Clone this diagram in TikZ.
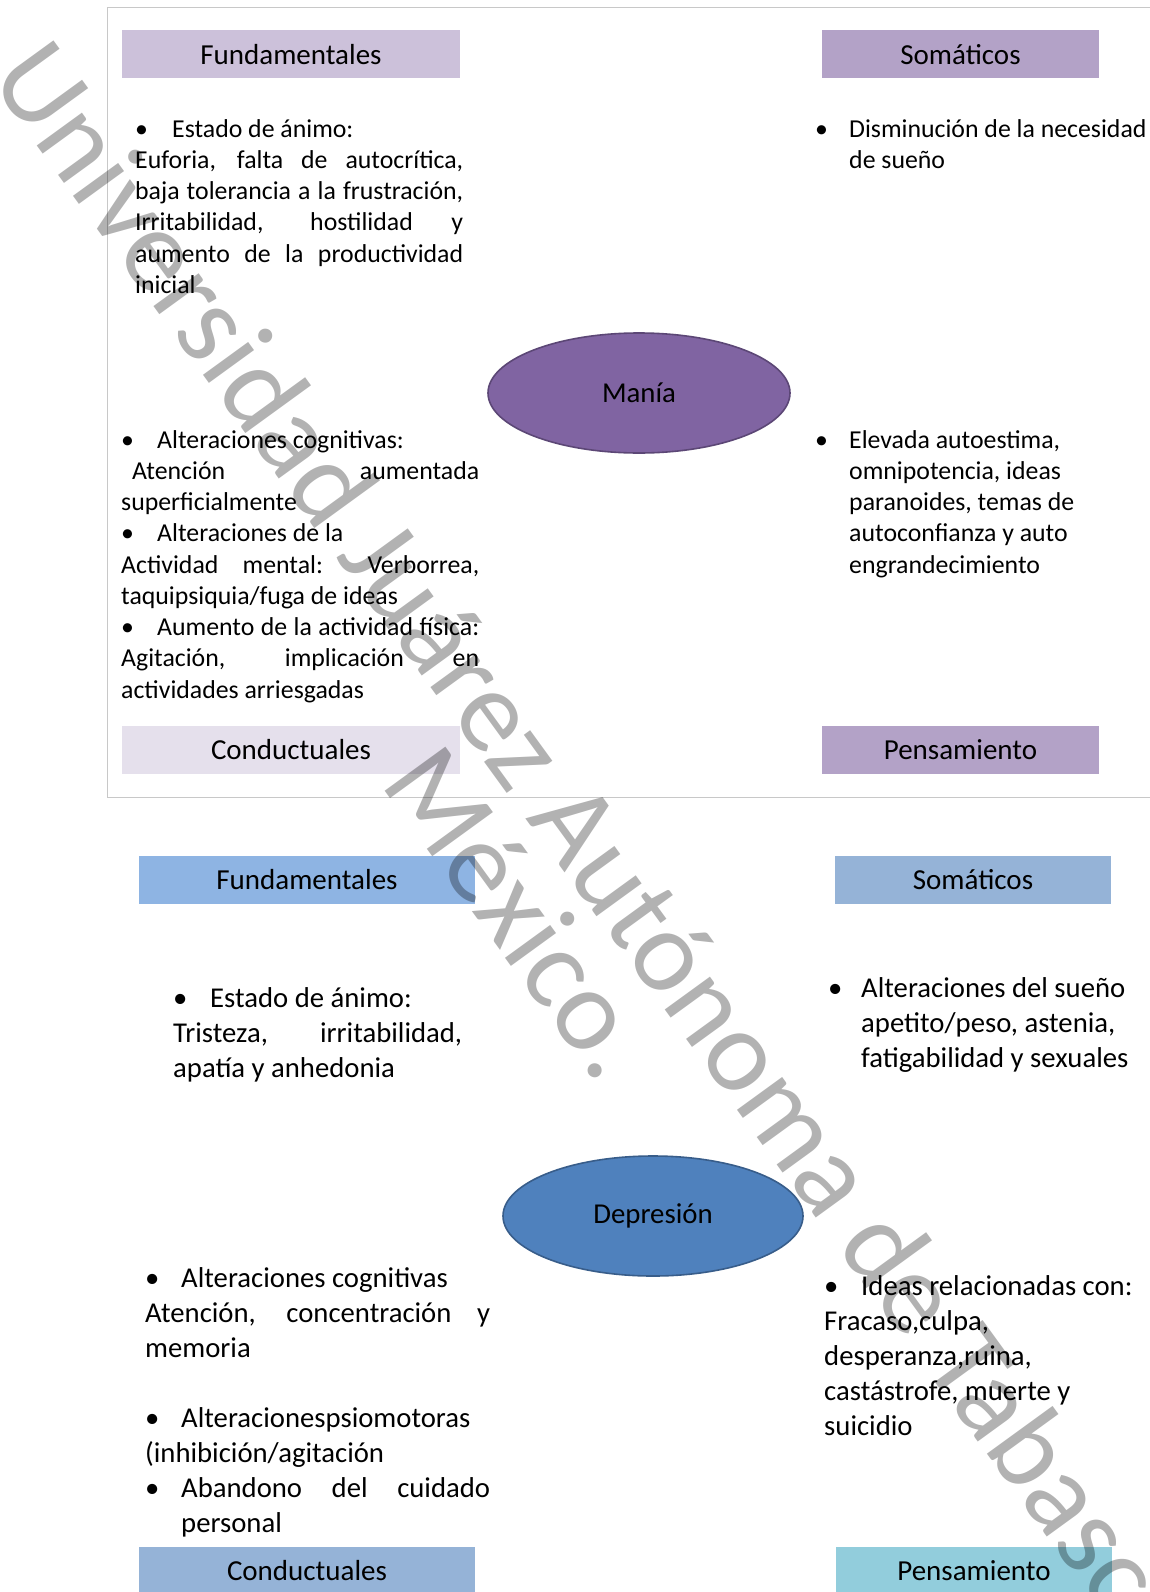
\documentclass[tikz,border=0pt]{standalone}
\usepackage{fontspec}
\setmainfont{Carlito}
\usepackage{tikz}
\usetikzlibrary{shapes.geometric}
\definecolor{maniahead}{HTML}{CCC1DA}
\definecolor{maniadeep}{HTML}{B3A2C7}
\definecolor{maniapale}{HTML}{E5E0EC}
\definecolor{maniafill}{HTML}{8064A2}
\definecolor{maniaedge}{HTML}{5C4776}
\definecolor{depbright}{HTML}{8EB4E3}
\definecolor{depsoft}{HTML}{95B3D7}
\definecolor{depaqua}{HTML}{92CDDC}
\definecolor{depfill}{HTML}{4F81BD}
\definecolor{depedge}{HTML}{385D8A}
\definecolor{framegray}{HTML}{C8C8C8}
\tolerance=9999
\hbadness=10000
\hyphenpenalty=10000
\exhyphenpenalty=10000
\newcommand{\itembullet}[1]{\makebox[#1][l]{\textbullet}}
\tikzset{
  headbox/.style={draw=none, inner sep=0pt, minimum height=48pt, font=\fontsize{29}{35}\selectfont},
  bodytext/.style={inner sep=0pt, anchor=base west, align=justify, font=\fontsize{25.8}{31.25}\selectfont},
  bodytextlg/.style={inner sep=0pt, anchor=base west, align=justify, font=\fontsize{28.7}{35}\selectfont},
  core/.style={ellipse, inner sep=0pt, minimum height=120pt, line width=1.6pt, font=\fontsize{28.8}{34}\selectfont},
  watermark/.style={inner sep=0pt, anchor=base, text=black, text opacity=0.3, rotate=-54, font=\fontsize{117}{117}\selectfont}
}

\begin{document}
\begin{tikzpicture}[x=1pt, y=-1pt]
  \useasboundingbox (0,0) rectangle (1149,1592);
  \fill[white] (0,0) rectangle (1149,1592);
  \draw[framegray, line width=1pt] (107,8) rectangle (1170,797);

  \node[headbox, fill=maniahead, minimum width=338pt] (mfund) at (291,54.5) {Fundamentales};
  \node[headbox, fill=maniadeep, minimum width=277pt] (msom) at (960.5,54.5) {Somáticos};
  \node[headbox, fill=maniapale, minimum width=338pt] (mcond) at (291,750) {Conductuales};
  \node[headbox, fill=maniadeep, minimum width=277pt] (mpens) at (960.5,750) {Pensamiento};

  \node[core, fill=maniafill, draw=maniaedge, minimum width=302pt] (mania) at (639,393) {Manía};

  \node[bodytext, text width=328pt] (mfundtxt) at (135,137) {\itembullet{37pt}Estado de ánimo:\\ Euforia, falta de autocrítica,\linebreak baja tolerancia a la frustración,\linebreak Irritabilidad, hostilidad y\linebreak aumento de la productividad\linebreak inicial};
  \node[bodytext, text width=358pt] (mcondtxt) at (121,448) {\itembullet{36pt}Alteraciones cognitivas:\\ \hspace*{11pt}Atención aumentada\linebreak superficialmente\\ \itembullet{36pt}Alteraciones de la\\ Actividad mental: Verborrea,\linebreak taquipsiquia/fuga de ideas\\ \itembullet{36pt}Aumento de la actividad física:\linebreak Agitación, implicación en\linebreak actividades arriesgadas};
  \node[bodytext, text width=340pt, align=flush left] (msomtxt) at (815,137) {\itembullet{34pt}Disminución de la necesidad\\ \hspace*{34pt}de sueño};
  \node[bodytext, text width=334pt, align=flush left] (mpenstxt) at (815,448) {\itembullet{34pt}Elevada autoestima,\\ \hspace*{34pt}omnipotencia, ideas\\ \hspace*{34pt}paranoides, temas de\\ \hspace*{34pt}autoconfianza y auto\\ \hspace*{34pt}engrandecimiento};

  \node[headbox, fill=depbright, minimum width=336pt] (dfund) at (307,879.5) {Fundamentales};
  \node[headbox, fill=depsoft, minimum width=276pt] (dsom) at (973,879.5) {Somáticos};
  \node[headbox, fill=depsoft, minimum width=336pt] (dcond) at (307,1571) {Conductuales};
  \node[headbox, fill=depaqua, minimum width=276pt] (dpens) at (974,1571) {Pensamiento};

  \node[core, fill=depfill, draw=depedge, minimum width=300pt] (depresion) at (653,1216) {Depresión};

  \node[bodytextlg, text width=289pt] (dfundtxt) at (173,1007) {\itembullet{37pt}Estado de ánimo:\\ Tristeza, irritabilidad,\linebreak apatía y anhedonia};
  \node[bodytextlg, text width=320pt, align=flush left] (dsomtxt) at (828,997) {\itembullet{33pt}Alteraciones del sueño\\ \hspace*{33pt}apetito/peso, astenia,\\ \hspace*{33pt}fatigabilidad y sexuales};
  \node[bodytextlg, text width=345pt] (dcondtxt) at (145,1287) {\itembullet{36pt}Alteraciones cognitivas\\ Atención, concentración y\linebreak memoria\\[35pt] \itembullet{36pt}Alteracionespsiomotoras\\ (inhibición/agitación\\ \itembullet{36pt}Abandono del cuidado\linebreak \hspace*{36pt}personal};
  \node[bodytextlg, text width=325pt, align=flush left] (dpenstxt) at (824,1295) {\itembullet{37pt}Ideas relacionadas con:\\ Fracaso,culpa,\\ desperanza,ruina,\\ castástrofe, muerte y\\ suicidio};

  \node[watermark] (wmline) at (566,874) {Universidad Juárez Autónoma de Tabasco};
  \node[watermark] (wmcountry) at (489,935) {México.};
\end{tikzpicture}
\end{document}
